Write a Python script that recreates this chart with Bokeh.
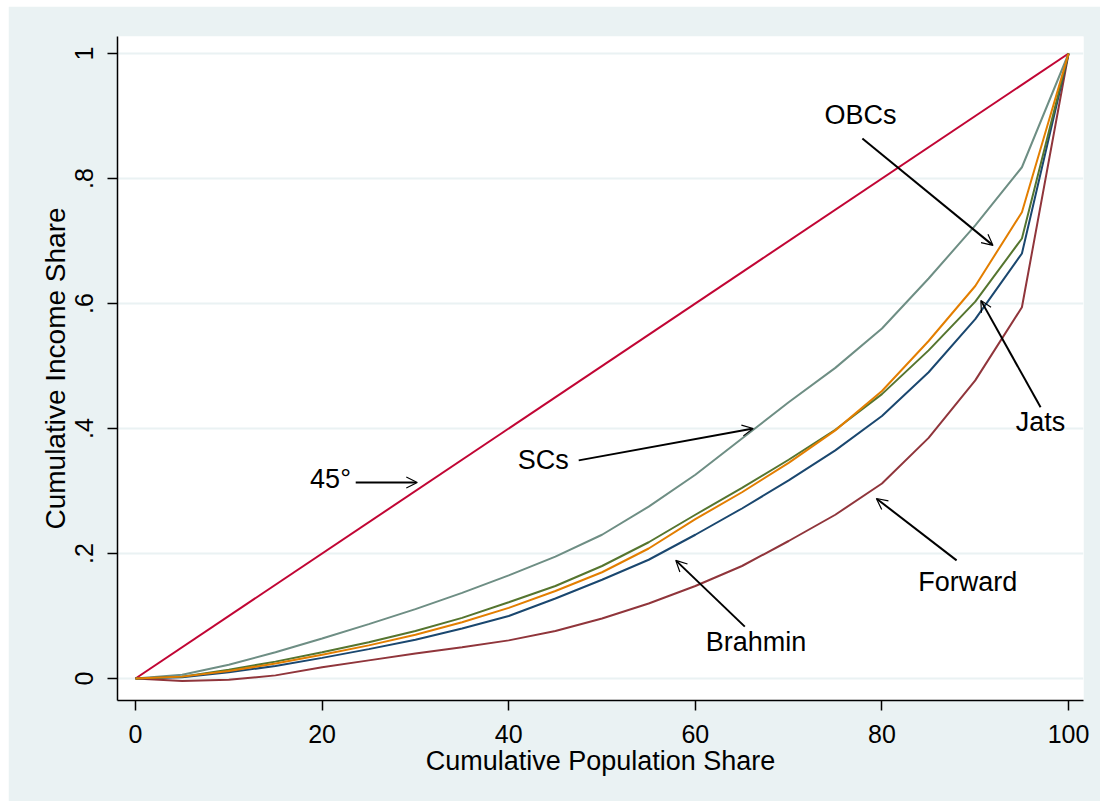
from bokeh.plotting import figure
from bokeh.models import Range1d, FixedTicker, Arrow, OpenHead, ColumnDataSource, CustomJSTickFormatter
from bokeh.core.properties import value
from bokeh.embed import file_html
from bokeh.resources import INLINE

# ---- data ----
pop_share = [0, 5, 10, 15, 20, 25, 30, 35, 40, 45, 50, 55, 60, 65, 70, 75, 80, 85, 90, 95, 100]
brahmin = [0, 0.002, 0.010, 0.020, 0.033, 0.047, 0.062, 0.080, 0.100, 0.128, 0.158, 0.190, 0.230, 0.272, 0.317, 0.365, 0.420, 0.490, 0.575, 0.680, 1.0]
forward = [0, -0.004, -0.002, 0.005, 0.018, 0.029, 0.040, 0.050, 0.061, 0.076, 0.096, 0.120, 0.148, 0.180, 0.220, 0.262, 0.312, 0.385, 0.477, 0.594, 1.0]
jats = [0, 0.003, 0.014, 0.027, 0.042, 0.058, 0.076, 0.097, 0.122, 0.148, 0.180, 0.218, 0.262, 0.305, 0.350, 0.398, 0.455, 0.525, 0.603, 0.704, 1.0]
obcs = [0, 0.003, 0.012, 0.024, 0.038, 0.053, 0.070, 0.090, 0.113, 0.140, 0.170, 0.208, 0.255, 0.298, 0.345, 0.397, 0.460, 0.540, 0.628, 0.746, 1.0]
scs = [0, 0.006, 0.022, 0.042, 0.064, 0.087, 0.111, 0.137, 0.165, 0.195, 0.230, 0.275, 0.326, 0.384, 0.442, 0.497, 0.560, 0.640, 0.725, 0.818, 1.0]
equality_x = [0, 100]
equality_y = [0, 1]

x_ticks = [0, 20, 40, 60, 80, 100]
y_ticks = [0, 0.2, 0.4, 0.6, 0.8, 1.0]

# annotations
ann_text = ["45°", "SCs", "OBCs", "Jats", "Forward", "Brahmin"]
ann_x = [20.9, 43.7, 77.7, 97.0, 89.2, 66.5]
ann_y = [0.320, 0.349, 0.901, 0.410, 0.154, 0.059]
arr_x0 = [23.6, 47.5, 77.9, 97.0, 88.0, 65.3]
arr_y0 = [0.3136, 0.349, 0.864, 0.434, 0.189, 0.083]
arr_x1 = [30.2, 66.2, 91.9, 90.6, 79.4, 57.9]
arr_y1 = [0.3136, 0.400, 0.693, 0.605, 0.288, 0.189]

BG = "#EAF2F3"
FONT = "Liberation Sans"

p = figure(frame_width=966, frame_height=664,
           x_range=Range1d(-1.93, 101.6), y_range=Range1d(-0.0352, 1.0272),
           output_backend="svg", toolbar_location=None,
           background_fill_color="white", border_fill_color=BG,
           min_border_left=109, min_border_right=17, min_border_top=30, min_border_bottom=101)
p.margin = (6, 0, 0, 8)
p.outline_line_color = None

# axes
for ax in (p.xaxis, p.yaxis):
    ax.axis_line_color = "black"
    ax.axis_line_width = 1.5
    ax.major_tick_line_color = "black"
    ax.major_tick_line_width = 1.5
    ax.major_tick_in = 0
    ax.major_tick_out = 10
    ax.minor_tick_line_color = None
    ax.major_label_text_font = FONT
    ax.major_label_text_font_size = "25px"
    ax.major_label_text_color = "black"
    ax.axis_label_text_font = FONT
    ax.axis_label_text_font_style = "normal"
    ax.axis_label_text_color = "black"

p.xaxis.axis_label_text_font_size = "27px"
p.yaxis.axis_label_text_font_size = "28px"
p.xaxis.ticker = FixedTicker(ticks=x_ticks)
p.yaxis.ticker = FixedTicker(ticks=y_ticks)
p.yaxis.formatter = CustomJSTickFormatter(code="""
    if (Math.abs(tick) < 1e-9) return "0";
    if (Math.abs(tick - 1) < 1e-9) return "1";
    return tick.toFixed(1).replace(/^0/, "");
""")
p.yaxis.major_label_orientation = "vertical"
p.xaxis.axis_label = "Cumulative Population Share"
p.yaxis.axis_label = "Cumulative Income Share"
p.xaxis.major_label_standoff = 14
p.xaxis.axis_label_standoff = 0
p.yaxis.major_label_standoff = 15
p.yaxis.axis_label_standoff = 1

p.xgrid.visible = False
p.ygrid.grid_line_color = BG
p.ygrid.grid_line_width = 2

# lines
p.line(equality_x, equality_y, line_color="#C10534", line_width=2)
p.line(pop_share, scs, line_color="#6E8E84", line_width=2)
p.line(pop_share, forward, line_color="#90353B", line_width=2)
p.line(pop_share, brahmin, line_color="#1A476F", line_width=2)
p.line(pop_share, jats, line_color="#55752F", line_width=2)
p.line(pop_share, obcs, line_color="#E37E00", line_width=2)

# annotations
p.text(x=ann_x, y=ann_y, text=ann_text, text_font=value(FONT), text_font_size="27px",
       text_align="center", text_baseline="middle", text_color="black")
asrc = ColumnDataSource(dict(x0=arr_x0, y0=arr_y0, x1=arr_x1, y1=arr_y1))
p.add_layout(Arrow(end=OpenHead(size=11, line_width=1.2, line_color="black"),
                   x_start="x0", y_start="y0", x_end="x1", y_end="y1",
                   source=asrc, line_width=2, line_color="black"))

open("out.html", "w").write(file_html(p, INLINE))
